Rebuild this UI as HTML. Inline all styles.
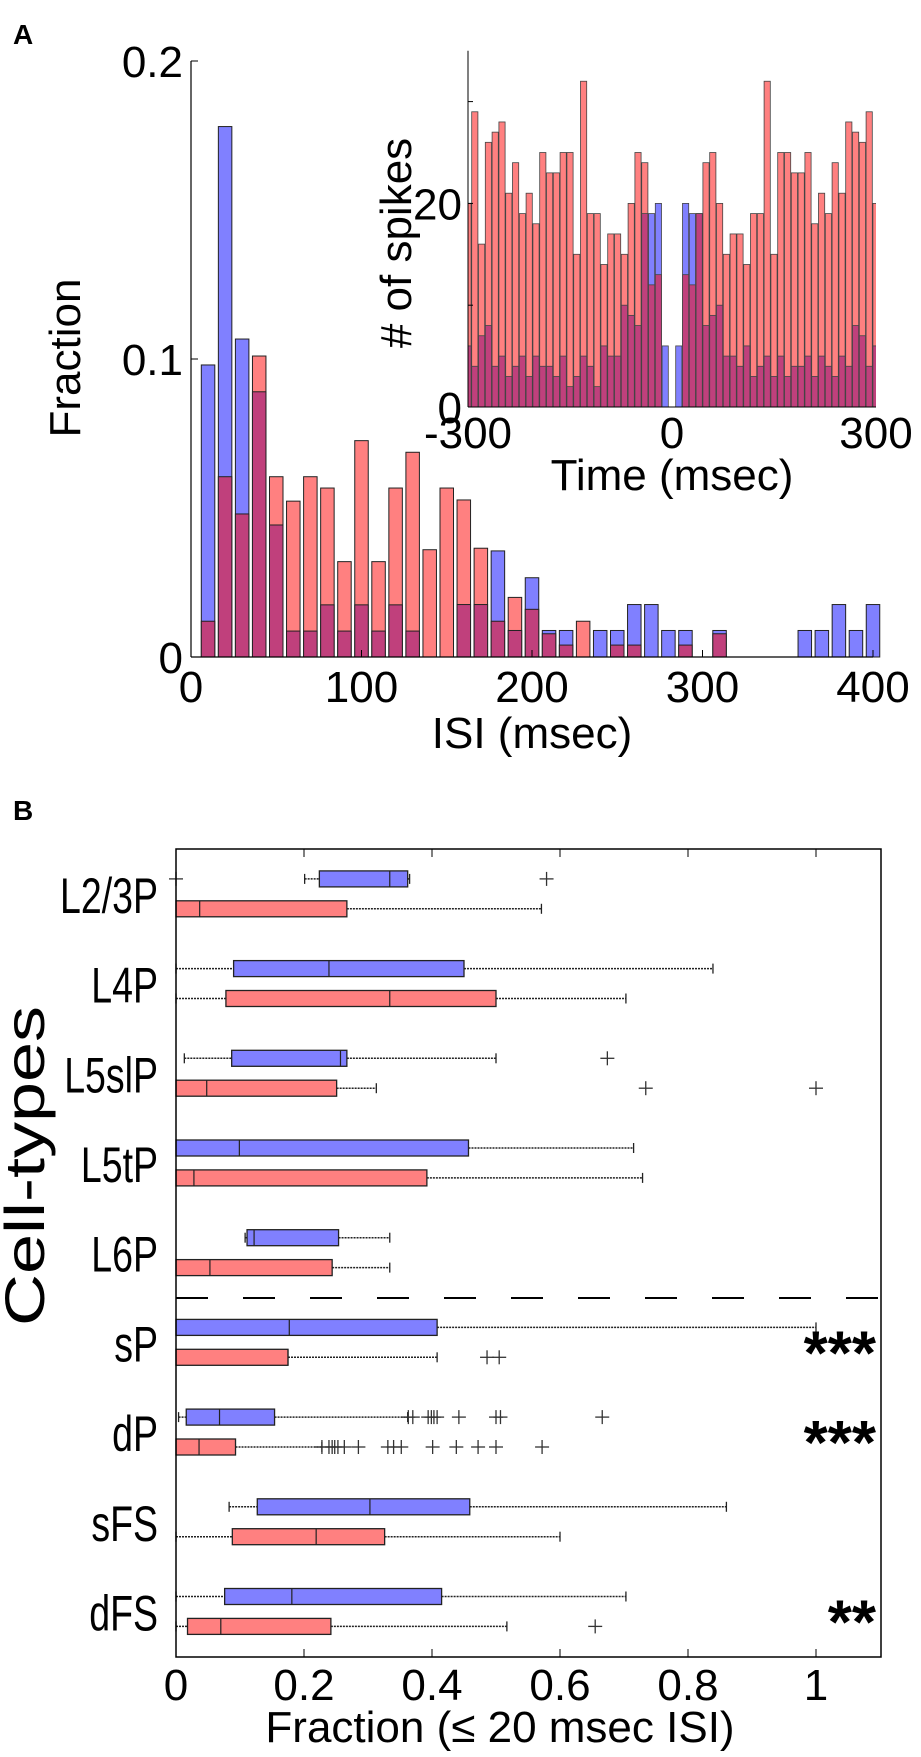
<!DOCTYPE html>
<html><head><meta charset="utf-8"><style>
html,body{margin:0;padding:0;background:#fff}
svg{display:block;font-family:"Liberation Sans",Arial,sans-serif}
</style></head><body>
<svg id="fig" width="921" height="1757" viewBox="0 0 921 1757" xmlns="http://www.w3.org/2000/svg">
<text x="13" y="44" font-size="28" font-weight="bold">A</text>
<text x="13" y="820" font-size="28" font-weight="bold">B</text>
<g id="pa"></g>
<g id="pi"></g>
<g id="pb"></g>
</svg>
<script>
// ---- Panel A: ISI histogram ----
const isiBins=[10,20,30,40,50,60,70,80,90,100,110,120,130,140,150,160,170,180,190,200,210,220,230,240,250,260,270,280,290,300,310,320,330,340,350,360,370,380,390,400];
const isiBlue=[.098,.178,.1067,.089,.0443,.0087,.0087,.0175,.0087,.0175,.0087,.0175,.0087,0,0,.0176,.0176,.0356,.0089,.0266,.0089,.0089,0,.0089,.0089,.0176,.0176,.0089,.0089,0,.0089,0,0,0,0,.0089,.0089,.0176,.0089,.0176];
const isiRed=[.012,.0605,.048,.101,.0605,.0523,.0605,.0567,.032,.0726,.032,.0567,.0687,.036,.0567,.0527,.0365,.012,.020,.016,.0078,.004,.012,0,.004,.004,0,0,.004,0,.0078,0,0,0,0,0,0,0,0,0];
const isiXTicks=[0,100,200,300,400];
const isiYTicks=[0,0.1,0.2];
const isiYTickLabels=["0","0.1","0.2"];
// ---- Inset: crosscorrelogram ----
const ccBins=[];for(let t=-300;t<=300;t+=10)ccBins.push(t);
const ccRed=[20,29,16,26,27,28,21,24,19,21,18,25,23,23,25,25,15,32,19,19,14,17,17,15,20,25,24,12,13,0,0,0,13,12,19,24,25,20,15,17,17,14,19,19,32,15,25,25,23,23,25,18,21,19,24,21,28,27,26,29,20];
const ccBlue=[6,4,7,8,4,5,3,4,5,3,5,4,4,3,5,2,3,5,4,2,6,5,5,10,9,8,19,19,20,6,0,6,20,19,19,8,9,10,5,5,4,6,3,4,5,3,5,3,4,4,5,3,5,4,3,5,4,8,7,4,6];
const ccXTicks=[-300,0,300];
const ccYTicks=[0,20];
// ---- Panel B: boxplots ----
const cellTypes=["L2/3P","L4P","L5slP","L5tP","L6P","sP","dP","sFS","dFS"];
const blueStats=[ // [lo,q1,med,q3,hi]
[.201,.224,.334,.362,.365],[0,.090,.239,.450,.839],[.013,.087,.257,.267,.5],[0,0,.099,.457,.715],[.108,.111,.122,.254,.334],
[0,0,.177,.408,1.0],[.004,.016,.068,.154,.362],[.083,.127,.303,.459,.86],[0,.076,.181,.415,.703]];
const redStats=[
[0,0,.037,.267,.571],[0,.078,.334,.5,.703],[0,0,.048,.251,.313],[0,0,.028,.392,.729],[0,0,.053,.244,.334],
[0,0,.175,.175,.408],[0,0,.036,.093,.228],[0,.088,.219,.326,.6],[0,.018,.07,.242,.517]];
const blueOut=[[0,.579],[],[.674],[],[],[],[.363,.37,.394,.399,.403,.408,.442,.5,.507,.666],[],[]];
const redOut=[[],[],[.734,1.0],[],[],[.486,.505],[.228,.239,.244,.248,.253,.263,.285,.331,.340,.352,.401,.438,.472,.5,.572],[],[.655]];
const sigStars=["","","","","","***","***","","**"];
const bXTicks=[0,0.2,0.4,0.6,0.8,1];
const bXTickLabels=["0","0.2","0.4","0.6","0.8","1"];

const NS="http://www.w3.org/2000/svg";
function mk(parent,tag,attrs,text){const e=document.createElementNS(NS,tag);for(const k in attrs)e.setAttribute(k,attrs[k]);if(text!==undefined)e.textContent=text;parent.appendChild(e);return e;}
const BLUE="#8080ff",RED="#ff8080",PURP="#c0407c";

// Panel A
const pa=document.getElementById('pa');
const ax=v=>191+v*682/400, ay=v=>657-v*2980;
for(let i=0;i<isiBins.length;i++){
  const cx=ax(isiBins[i]),w=13.5,b=isiBlue[i],r=isiRed[i];
  const hiV=Math.max(b,r),loV=Math.min(b,r);
  if(hiV>0){const e=mk(pa,'rect',{x:cx-w/2,y:ay(hiV),width:w,height:ay(0)-ay(hiV),fill:b>=r?BLUE:RED,stroke:'#222','stroke-width':1});
    
    }
  if(loV>0){const e=mk(pa,'rect',{x:cx-w/2,y:ay(loV),width:w,height:ay(0)-ay(loV),fill:PURP,stroke:'#222','stroke-width':1});
    
    }
}
mk(pa,'line',{x1:191,y1:ay(0.2),x2:191,y2:ay(0),stroke:'#000','stroke-width':1.2});
mk(pa,'line',{x1:191,y1:ay(0),x2:ax(400),y2:ay(0),stroke:'#000','stroke-width':1.2});
isiYTicks.forEach((v,i)=>{mk(pa,'line',{x1:191,y1:ay(v),x2:198,y2:ay(v),stroke:'#000'});
  const t=mk(pa,'text',{x:183,y:ay(v)+16,'font-size':44,'text-anchor':'end'},isiYTickLabels[i]);
  
  });
isiXTicks.forEach(v=>{mk(pa,'line',{x1:ax(v),y1:ay(0),x2:ax(v),y2:ay(0)-7,stroke:'#000'});
  const t=mk(pa,'text',{x:ax(v),y:702,'font-size':44,'text-anchor':'middle'},String(v));
  
  });
let t=mk(pa,'text',{x:532,y:748,'font-size':44,'text-anchor':'middle'},'ISI (msec)');


t=mk(pa,'text',{x:0,y:0,'font-size':44,'text-anchor':'middle',transform:'translate(80,358) rotate(-90)'},'Fraction');



// Inset
const pi=document.getElementById('pi');
const ix=v=>468+(v+300)*408/600, iy=v=>407-v*10.18;
const cp=mk(pi,'clipPath',{id:'ic'});mk(cp,'rect',{x:468,y:30,width:408,height:380});
const ig=mk(pi,'g',{'clip-path':'url(#ic)'});
for(let i=0;i<ccBins.length;i++){
  const cx=ix(ccBins[i]),w=6.2,b=ccBlue[i],r=ccRed[i];
  const hiV=Math.max(b,r),loV=Math.min(b,r);
  if(hiV>0){const e=mk(ig,'rect',{x:cx-w/2,y:iy(hiV),width:w,height:iy(0)-iy(hiV),fill:b>r?BLUE:RED,stroke:'#444','stroke-width':0.8});
    
    }
  if(loV>0){const e=mk(ig,'rect',{x:cx-w/2,y:iy(loV),width:w,height:iy(0)-iy(loV),fill:PURP,stroke:'#444','stroke-width':0.8});
    
    }
}
mk(pi,'line',{x1:468,y1:iy(35),x2:468,y2:iy(0),stroke:'#000','stroke-width':1});
mk(pi,'line',{x1:468,y1:iy(0),x2:876,y2:iy(0),stroke:'#000','stroke-width':1});
[0,10,20,30].forEach(v=>mk(pi,'line',{x1:468,y1:iy(v),x2:473,y2:iy(v),stroke:'#000'}));
ccYTicks.forEach(v=>{const e=mk(pi,'text',{x:462,y:iy(v)+16,'font-size':44,'text-anchor':'end'},String(v));
  
  });
ccXTicks.forEach(v=>{const e=mk(pi,'text',{x:ix(v),y:448,'font-size':44,'text-anchor':'middle'},String(v));
  
  });
t=mk(pi,'text',{x:672,y:490,'font-size':44,'text-anchor':'middle'},'Time (msec)');


t=mk(pi,'text',{x:0,y:0,'font-size':44,'text-anchor':'middle',transform:'translate(411,243) rotate(-90)'},'# of spikes');



// Panel B
const pb=document.getElementById('pb');
const bx=v=>176+v*640, by=p=>849+p*29.9;
const L=176,R=881,T=849,B=1657;
function plus(g,x,y){mk(g,'line',{x1:x-7,y1:y,x2:x+7,y2:y,stroke:'#333','stroke-width':1.3});mk(g,'line',{x1:x,y1:y-7,x2:x,y2:y+7,stroke:'#333','stroke-width':1.3});}
function box(s,out,pos,col,nm){
  const y=by(pos),g=mk(pb,'g',{});
  
  
  if(s[4]>s[3]){mk(g,'line',{x1:bx(s[3]),y1:y,x2:bx(s[4]),y2:y,stroke:'#222','stroke-width':1.5,'stroke-dasharray':'2,1'});
    mk(g,'line',{x1:bx(s[4]),y1:y-5,x2:bx(s[4]),y2:y+5,stroke:'#222','stroke-width':1.3});}
  if(s[1]>s[0]){mk(g,'line',{x1:bx(s[0]),y1:y,x2:bx(s[1]),y2:y,stroke:'#222','stroke-width':1.5,'stroke-dasharray':'2,1'});
    mk(g,'line',{x1:bx(s[0]),y1:y-5,x2:bx(s[0]),y2:y+5,stroke:'#222','stroke-width':1.3});}
  mk(g,'rect',{x:bx(s[1]),y:y-8,width:Math.max(1,bx(s[3])-bx(s[1])),height:16,fill:col,stroke:'#222','stroke-width':1.3});
  mk(g,'line',{x1:bx(s[2]),y1:y-8,x2:bx(s[2]),y2:y+8,stroke:'#222','stroke-width':1.2});
  out.forEach(v=>plus(g,bx(v),y));
}
cellTypes.forEach((c,i)=>{
  const p0=i<5?1+3*i:16+3*(i-5);
  box(blueStats[i],blueOut[i],p0,BLUE,'box-blue-'+c);
  box(redStats[i],redOut[i],p0+1,RED,'box-red-'+c);
  const e=mk(pb,'text',{x:0,y:0,'font-size':50,'text-anchor':'end',transform:'translate(158,'+(by(p0+0.5)+19)+') scale(0.75,1)'},c);
  
  
  if(sigStars[i]){const s=mk(pb,'text',{x:876,y:by(p0+0.5)+32,'font-size':62,'font-weight':'bold','text-anchor':'end'},sigStars[i]);
    
    }
});
mk(pb,'line',{x1:L,y1:1298,x2:R,y2:1298,stroke:'#000','stroke-width':2,'stroke-dasharray':'32,35'});
mk(pb,'rect',{x:L,y:T,width:R-L,height:B-T,fill:'none',stroke:'#000','stroke-width':1.5});
bXTicks.forEach((v,i)=>{
  mk(pb,'line',{x1:bx(v),y1:T,x2:bx(v),y2:T+8,stroke:'#000'});
  mk(pb,'line',{x1:bx(v),y1:B,x2:bx(v),y2:B-8,stroke:'#000'});
  const e=mk(pb,'text',{x:bx(v),y:1700,'font-size':44,'text-anchor':'middle'},bXTickLabels[i]);
  
  
});
t=mk(pb,'text',{x:500,y:1742,'font-size':44,'text-anchor':'middle'},'Fraction (≤ 20 msec ISI)');


t=mk(pb,'text',{x:0,y:0,'font-size':56,'text-anchor':'middle','textLength':320,'lengthAdjust':'spacingAndGlyphs',transform:'translate(44,1166) rotate(-90)'},'Cell-types');


</script>
</body></html>
